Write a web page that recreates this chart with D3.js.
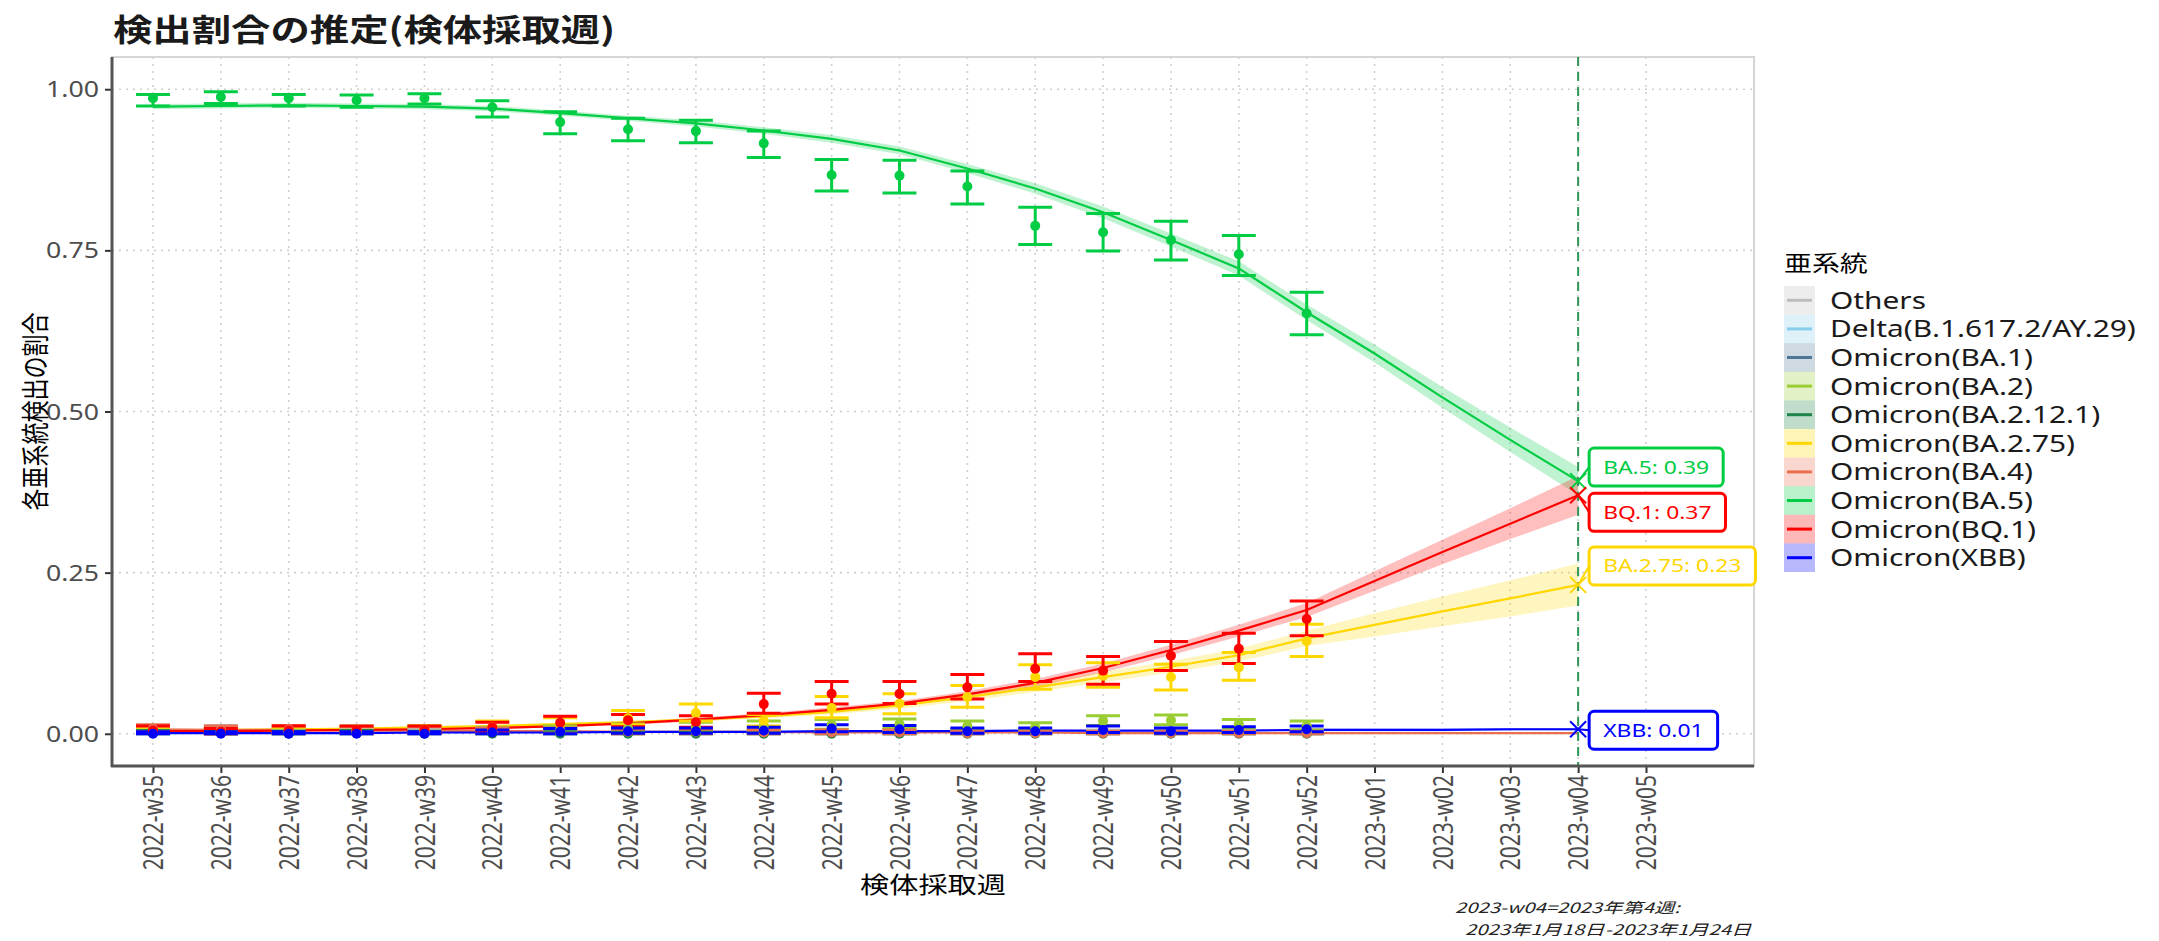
<!DOCTYPE html>
<html>
<head>
<meta charset="utf-8">
<script src="https://cdn.jsdelivr.net/npm/d3@7"></script>
<style>
  body { margin: 0; background: #fff; }
  svg { display: block; }
</style>
</head>
<body>
<svg id="chart" width="2159" height="941"></svg>
<script>
// week categories on the x axis
const weeks = [
  "2022-w35", "2022-w36", "2022-w37", "2022-w38", "2022-w39", "2022-w40",
  "2022-w41", "2022-w42", "2022-w43", "2022-w44", "2022-w45", "2022-w46",
  "2022-w47", "2022-w48", "2022-w49", "2022-w50", "2022-w51", "2022-w52",
  "2023-w01", "2023-w02", "2023-w03", "2023-w04", "2023-w05"
];
const obsWeeks = weeks.slice(0, 18);   // observed w35..w52
const fitWeeks = weeks.slice(0, 22);   // model fit w35..2023-w04
const cutWeek = "2023-w04";
const yTicks = [0, 0.25, 0.5, 0.75, 1];

// legend lineages and colours
const lineages = [
  "Others", "Delta(B.1.617.2/AY.29)", "Omicron(BA.1)", "Omicron(BA.2)",
  "Omicron(BA.2.12.1)", "Omicron(BA.2.75)", "Omicron(BA.4)", "Omicron(BA.5)",
  "Omicron(BQ.1)", "Omicron(XBB)"
];
const lineageColors = [
  "#bdbdbd", "#87ceeb", "#4f7694", "#9acd32", "#1e8449",
  "#ffd700", "#e9704f", "#00cc44", "#ff0000", "#0000ff"
];

// observed proportions with intervals (w35..w52)
const othersObs = [0.003, 0.004, 0.002, 0.002, 0.002, 0.002, 0.002, 0.002, 0.002, 0.002, 0.002, 0.002, 0.002, 0.002, 0.002, 0.002, 0.002, 0.002];
const othersLo  = [0.000, 0.000, 0.000, 0.000, 0.000, 0.000, 0.000, 0.000, 0.000, 0.000, 0.000, 0.000, 0.000, 0.000, 0.000, 0.000, 0.000, 0.000];
const othersHi  = [0.010, 0.013, 0.008, 0.007, 0.007, 0.006, 0.006, 0.006, 0.006, 0.006, 0.006, 0.006, 0.006, 0.006, 0.006, 0.006, 0.006, 0.006];

const ba2Obs = [0.004, 0.002, 0.003, 0.005, 0.006, 0.004, 0.006, 0.008, 0.010, 0.012, 0.014, 0.015, 0.012, 0.010, 0.020, 0.021, 0.015, 0.012];
const ba2Lo  = [0.001, 0.000, 0.000, 0.001, 0.002, 0.001, 0.002, 0.003, 0.004, 0.006, 0.007, 0.008, 0.006, 0.005, 0.013, 0.014, 0.009, 0.006];
const ba2Hi  = [0.010, 0.008, 0.009, 0.012, 0.013, 0.010, 0.012, 0.015, 0.018, 0.020, 0.022, 0.023, 0.020, 0.017, 0.028, 0.029, 0.022, 0.020];

const ba2121Obs = [0.001, 0.001, 0.000, 0.001, 0.000, 0.000, 0.000, 0.000, 0.000, 0.000, 0.000, 0.000, 0.000, 0.000, 0.000, 0.000, 0.000, 0.000];
const ba2121Lo  = [0.000, 0.000, 0.000, 0.000, 0.000, 0.000, 0.000, 0.000, 0.000, 0.000, 0.000, 0.000, 0.000, 0.000, 0.000, 0.000, 0.000, 0.000];
const ba2121Hi  = [0.005, 0.005, 0.004, 0.005, 0.004, 0.003, 0.003, 0.003, 0.003, 0.003, 0.003, 0.003, 0.003, 0.003, 0.003, 0.003, 0.003, 0.003];

const ba275Obs = [0.004, 0.004, 0.004, 0.005, 0.006, 0.010, 0.015, 0.024, 0.032, 0.020, 0.040, 0.047, 0.057, 0.088, 0.090, 0.088, 0.103, 0.144];
const ba275Lo  = [0.001, 0.001, 0.001, 0.001, 0.002, 0.004, 0.008, 0.014, 0.020, 0.012, 0.025, 0.031, 0.041, 0.069, 0.072, 0.068, 0.083, 0.120];
const ba275Hi  = [0.010, 0.010, 0.010, 0.011, 0.012, 0.020, 0.025, 0.036, 0.046, 0.030, 0.058, 0.062, 0.075, 0.107, 0.110, 0.108, 0.126, 0.170];

const ba4Obs = [0.008, 0.006, 0.007, 0.005, 0.005, 0.004, 0.004, 0.003, 0.003, 0.002, 0.002, 0.002, 0.001, 0.001, 0.001, 0.001, 0.001, 0.001];
const ba4Lo  = [0.003, 0.002, 0.002, 0.001, 0.001, 0.001, 0.001, 0.000, 0.000, 0.000, 0.000, 0.000, 0.000, 0.000, 0.000, 0.000, 0.000, 0.000];
const ba4Hi  = [0.014, 0.012, 0.013, 0.011, 0.011, 0.009, 0.009, 0.007, 0.007, 0.006, 0.006, 0.006, 0.004, 0.004, 0.004, 0.004, 0.004, 0.004];

const ba5Obs = [0.986, 0.988, 0.986, 0.983, 0.986, 0.972, 0.949, 0.938, 0.935, 0.916, 0.867, 0.866, 0.849, 0.788, 0.778, 0.766, 0.744, 0.652];
const ba5Lo  = [0.974, 0.978, 0.974, 0.972, 0.977, 0.957, 0.931, 0.920, 0.917, 0.894, 0.842, 0.839, 0.822, 0.759, 0.749, 0.735, 0.711, 0.619];
const ba5Hi  = [0.992, 0.996, 0.992, 0.991, 0.993, 0.982, 0.965, 0.955, 0.952, 0.935, 0.891, 0.890, 0.873, 0.817, 0.807, 0.795, 0.773, 0.685];

const bq1Obs = [0.005, 0.003, 0.005, 0.006, 0.006, 0.010, 0.017, 0.021, 0.018, 0.046, 0.062, 0.062, 0.072, 0.101, 0.098, 0.121, 0.132, 0.178];
const bq1Lo  = [0.001, 0.000, 0.001, 0.002, 0.002, 0.004, 0.008, 0.011, 0.010, 0.032, 0.046, 0.047, 0.054, 0.081, 0.077, 0.098, 0.109, 0.152];
const bq1Hi  = [0.012, 0.008, 0.012, 0.012, 0.012, 0.018, 0.027, 0.030, 0.028, 0.063, 0.081, 0.081, 0.092, 0.124, 0.120, 0.143, 0.156, 0.206];

const xbbObs = [0.000, 0.000, 0.000, 0.000, 0.000, 0.002, 0.003, 0.004, 0.004, 0.005, 0.008, 0.007, 0.004, 0.004, 0.006, 0.004, 0.006, 0.007];
const xbbLo  = [0.000, 0.000, 0.000, 0.000, 0.000, 0.000, 0.000, 0.001, 0.001, 0.001, 0.003, 0.002, 0.001, 0.001, 0.002, 0.001, 0.002, 0.003];
const xbbHi  = [0.003, 0.003, 0.003, 0.003, 0.003, 0.006, 0.008, 0.009, 0.009, 0.010, 0.014, 0.013, 0.009, 0.009, 0.012, 0.009, 0.011, 0.012];

// model fit with interval (w35..2023-w04)
const ba4Fit = [0.007, 0.006, 0.006, 0.005, 0.005, 0.004, 0.004, 0.003, 0.003, 0.003, 0.002, 0.002, 0.002, 0.002, 0.001, 0.001, 0.001, 0.001, 0.001, 0.001, 0.001, 0.001];

const ba5Fit   = [0.973, 0.974, 0.975, 0.974, 0.973, 0.970, 0.963, 0.955, 0.947, 0.936, 0.923, 0.905, 0.877, 0.846, 0.809, 0.766, 0.722, 0.654, 0.590, 0.522, 0.456, 0.392];
const ba5FitLo = [0.969, 0.970, 0.971, 0.970, 0.969, 0.966, 0.959, 0.951, 0.942, 0.931, 0.917, 0.899, 0.870, 0.838, 0.800, 0.756, 0.711, 0.642, 0.576, 0.506, 0.437, 0.370];
const ba5FitHi = [0.977, 0.978, 0.979, 0.978, 0.977, 0.974, 0.967, 0.959, 0.952, 0.941, 0.929, 0.911, 0.884, 0.854, 0.818, 0.776, 0.733, 0.666, 0.604, 0.538, 0.475, 0.414];

const bq1Fit   = [0.004, 0.004, 0.005, 0.006, 0.007, 0.009, 0.012, 0.016, 0.022, 0.029, 0.037, 0.047, 0.061, 0.079, 0.102, 0.130, 0.160, 0.192, 0.237, 0.282, 0.326, 0.370];
const bq1FitLo = [0.003, 0.003, 0.004, 0.005, 0.006, 0.007, 0.010, 0.014, 0.019, 0.026, 0.033, 0.043, 0.056, 0.073, 0.095, 0.122, 0.151, 0.181, 0.222, 0.263, 0.302, 0.340];
const bq1FitHi = [0.005, 0.005, 0.006, 0.007, 0.008, 0.011, 0.014, 0.018, 0.025, 0.032, 0.041, 0.051, 0.066, 0.085, 0.109, 0.138, 0.169, 0.203, 0.252, 0.301, 0.350, 0.400];

const ba275Fit   = [0.005, 0.006, 0.007, 0.008, 0.010, 0.012, 0.015, 0.018, 0.022, 0.027, 0.034, 0.044, 0.057, 0.072, 0.088, 0.104, 0.122, 0.148, 0.169, 0.190, 0.210, 0.231];
const ba275FitLo = [0.004, 0.005, 0.006, 0.007, 0.008, 0.010, 0.013, 0.016, 0.019, 0.024, 0.030, 0.039, 0.051, 0.065, 0.080, 0.095, 0.112, 0.136, 0.151, 0.167, 0.182, 0.199];
const ba275FitHi = [0.006, 0.007, 0.008, 0.009, 0.012, 0.014, 0.017, 0.020, 0.025, 0.030, 0.038, 0.049, 0.063, 0.079, 0.096, 0.113, 0.132, 0.160, 0.187, 0.213, 0.238, 0.264];

const xbbFit   = [0.001, 0.001, 0.001, 0.001, 0.002, 0.002, 0.002, 0.003, 0.003, 0.003, 0.004, 0.004, 0.004, 0.005, 0.005, 0.005, 0.005, 0.006, 0.006, 0.006, 0.007, 0.007];
const xbbFitLo = [0.000, 0.000, 0.000, 0.000, 0.001, 0.001, 0.001, 0.002, 0.002, 0.002, 0.003, 0.003, 0.003, 0.004, 0.004, 0.004, 0.004, 0.004, 0.004, 0.004, 0.005, 0.005];
const xbbFitHi = [0.002, 0.002, 0.002, 0.002, 0.003, 0.003, 0.003, 0.004, 0.004, 0.004, 0.005, 0.005, 0.005, 0.006, 0.006, 0.006, 0.006, 0.008, 0.008, 0.008, 0.009, 0.009];

// end-of-fit labels
const labelNames = ["BA.5", "BQ.1", "BA.2.75", "XBB"];
const labelLineages = ["Omicron(BA.5)", "Omicron(BQ.1)", "Omicron(BA.2.75)", "Omicron(XBB)"];
const labelFits = [ba5Fit, bq1Fit, ba275Fit, xbbFit];

const colorOf = d3.scaleOrdinal().domain(lineages).range(lineageColors);

// ---- layout ----
const SX = 1.27;   // the reference text is drawn horizontally stretched
const FONT = "'Noto Sans', 'Noto Sans CJK JP', sans-serif";
const CJK = "'Noto Sans CJK JP', 'Noto Sans', sans-serif";
const panel = { left: 112, right: 1754, top: 57, bottom: 766 };

const svg = d3.select("#chart");

const x = d3.scalePoint().domain(weeks).range([153, 1646]);
const y = d3.scaleLinear().domain([-0.05, 1.05]).range([panel.bottom, panel.top]);

// stretched text helper
function stext(g, tx, ty, str, opts) {
  const sx = opts.sx || SX;
  const t = g.append("text")
    .attr("transform", `translate(${tx},${ty}) scale(${sx},1)` + (opts.rotate ? ` rotate(${opts.rotate})` : ""))
    .attr("font-family", opts.family || FONT)
    .attr("font-size", opts.size)
    .attr("fill", opts.fill || "#000")
    .attr("text-anchor", opts.anchor || "start")
    .text(str);
  if (opts.weight) t.attr("font-weight", opts.weight);
  if (opts.style) t.attr("font-style", opts.style);
  if (opts.dy) t.attr("dy", opts.dy);
  return t;
}

// ---- grid ----
const grid = svg.append("g");
grid.selectAll(".gx").data(weeks).join("line")
  .attr("x1", d => x(d)).attr("x2", d => x(d))
  .attr("y1", panel.top).attr("y2", panel.bottom)
  .attr("stroke", "#cfcfcf").attr("stroke-width", 1.6).attr("stroke-dasharray", "2,5");
grid.selectAll(".gy").data(yTicks).join("line")
  .attr("x1", panel.left).attr("x2", panel.right)
  .attr("y1", d => y(d)).attr("y2", d => y(d))
  .attr("stroke", "#cfcfcf").attr("stroke-width", 1.6).attr("stroke-dasharray", "2,5");

// panel border (top / right light grey)
svg.append("rect")
  .attr("x", panel.left).attr("y", panel.top)
  .attr("width", panel.right - panel.left).attr("height", panel.bottom - panel.top)
  .attr("fill", "none").attr("stroke", "#d6d6d6").attr("stroke-width", 2);

// ---- ribbons and fit lines ----
const fits = [
  { name: "Omicron(BA.2.75)", fit: ba275Fit, lo: ba275FitLo, hi: ba275FitHi },
  { name: "Omicron(BA.4)", fit: ba4Fit },
  { name: "Omicron(BA.5)", fit: ba5Fit, lo: ba5FitLo, hi: ba5FitHi },
  { name: "Omicron(BQ.1)", fit: bq1Fit, lo: bq1FitLo, hi: bq1FitHi },
  { name: "Omicron(XBB)", fit: xbbFit, lo: xbbFitLo, hi: xbbFitHi }
];

const area = d3.area()
  .x(d => x(d.week)).y0(d => y(d.lo)).y1(d => y(d.hi));
const line = d3.line()
  .x(d => x(d.week)).y(d => y(d.v));

const ribbonG = svg.append("g");
fits.filter(s => s.lo).forEach(s => {
  const pts = fitWeeks.map((w, i) => ({ week: w, lo: s.lo[i], hi: s.hi[i] }));
  ribbonG.append("path").datum(pts)
    .attr("d", area)
    .attr("fill", colorOf(s.name)).attr("fill-opacity", 0.25);
});

const lineG = svg.append("g");
fits.forEach(s => {
  const pts = fitWeeks.map((w, i) => ({ week: w, v: s.fit[i] }));
  lineG.append("path").datum(pts)
    .attr("d", line)
    .attr("fill", "none")
    .attr("stroke", colorOf(s.name)).attr("stroke-width", 2.2);
});

// ---- observed error bars and points ----
const obs = [
  { name: "Others", v: othersObs, lo: othersLo, hi: othersHi },
  { name: "Omicron(BA.2)", v: ba2Obs, lo: ba2Lo, hi: ba2Hi },
  { name: "Omicron(BA.2.12.1)", v: ba2121Obs, lo: ba2121Lo, hi: ba2121Hi },
  { name: "Omicron(BA.2.75)", v: ba275Obs, lo: ba275Lo, hi: ba275Hi },
  { name: "Omicron(BA.4)", v: ba4Obs, lo: ba4Lo, hi: ba4Hi },
  { name: "Omicron(BA.5)", v: ba5Obs, lo: ba5Lo, hi: ba5Hi },
  { name: "Omicron(BQ.1)", v: bq1Obs, lo: bq1Lo, hi: bq1Hi },
  { name: "Omicron(XBB)", v: xbbObs, lo: xbbLo, hi: xbbHi }
];
const capHalf = x.step() * 0.25;

const errG = svg.append("g");
obs.forEach(s => {
  const c = colorOf(s.name);
  const rows = obsWeeks.map((w, i) => ({ week: w, lo: s.lo[i], hi: s.hi[i] }));
  const g = errG.append("g").attr("stroke", c).attr("stroke-width", 3).attr("fill", "none");
  g.selectAll(".v").data(rows).join("line")
    .attr("x1", d => x(d.week)).attr("x2", d => x(d.week))
    .attr("y1", d => y(d.lo)).attr("y2", d => y(d.hi));
  g.selectAll(".t").data(rows).join("line")
    .attr("x1", d => x(d.week) - capHalf).attr("x2", d => x(d.week) + capHalf)
    .attr("y1", d => y(d.hi)).attr("y2", d => y(d.hi));
  g.selectAll(".b").data(rows).join("line")
    .attr("x1", d => x(d.week) - capHalf).attr("x2", d => x(d.week) + capHalf)
    .attr("y1", d => y(d.lo)).attr("y2", d => y(d.lo));
});

const ptG = svg.append("g");
obs.forEach(s => {
  const rows = obsWeeks.map((w, i) => ({ week: w, v: s.v[i] }));
  ptG.append("g").selectAll("circle").data(rows).join("circle")
    .attr("cx", d => x(d.week)).attr("cy", d => y(d.v))
    .attr("r", 5).attr("fill", colorOf(s.name));
});

// ---- cut-off week line ----
svg.append("line")
  .attr("x1", x(cutWeek)).attr("x2", x(cutWeek))
  .attr("y1", panel.top).attr("y2", panel.bottom)
  .attr("stroke", "#2e9657").attr("stroke-width", 2).attr("stroke-dasharray", "9,6");

// ---- end labels with cross markers ----
const labelOffsets = [-14, 17, -19, 1];
const labG = svg.append("g");
const cutIdx = fitWeeks.indexOf(cutWeek);
labelNames.forEach((nm, i) => {
  const c = colorOf(labelLineages[i]);
  const v = labelFits[i][cutIdx];
  const px = x(cutWeek), py = y(v);
  const bx = px + 11, by = py + labelOffsets[i];
  const s = 8;
  labG.append("path")
    .attr("d", `M${px - s},${py - s}L${px + s},${py + s}M${px - s},${py + s}L${px + s},${py - s}`)
    .attr("stroke", c).attr("stroke-width", 2).attr("fill", "none");
  labG.append("line")
    .attr("x1", px).attr("y1", py).attr("x2", bx).attr("y2", by)
    .attr("stroke", c).attr("stroke-width", 2);
  const g = labG.append("g");
  const t = stext(g, bx + 14, by, `${nm}: ${d3.format(".2f")(v)}`,
    { size: 18, fill: c, dy: "0.36em" });
  const tw = t.node().getComputedTextLength() * SX;
  g.insert("rect", "text")
    .attr("x", bx).attr("y", by - 19)
    .attr("width", tw + 28).attr("height", 38)
    .attr("rx", 5)
    .attr("fill", "#fff").attr("stroke", c).attr("stroke-width", 3);
});

// ---- axes ----
const yAxis = svg.append("g")
  .attr("transform", `translate(${panel.left},0)`)
  .call(d3.axisLeft(y).tickValues(yTicks).tickFormat(d3.format(".2f")).tickSize(7).tickPadding(6).tickSizeOuter(0));
yAxis.select(".domain").remove();
yAxis.selectAll(".tick line").attr("stroke", "#333").attr("stroke-width", 2);
yAxis.selectAll(".tick text")
  .attr("font-family", FONT).attr("font-size", 21).attr("fill", "#4d4d4d")
  .attr("x", -13 / SX).attr("dy", "0.36em")
  .attr("transform", `scale(${SX},1)`);

const xAxis = svg.append("g")
  .attr("transform", `translate(0,${panel.bottom})`)
  .call(d3.axisBottom(x).tickSize(7).tickPadding(6).tickSizeOuter(0));
xAxis.select(".domain").remove();
xAxis.selectAll(".tick line").attr("stroke", "#333").attr("stroke-width", 2);
xAxis.selectAll(".tick text")
  .attr("font-family", FONT).attr("font-size", 21).attr("fill", "#4d4d4d")
  .attr("text-anchor", "end")
  .attr("x", -9).attr("y", 0).attr("dy", "0.36em")
  .attr("transform", `scale(${SX},1) rotate(-90)`);

// axis lines (left and bottom, darker)
svg.append("line")
  .attr("x1", panel.left).attr("x2", panel.left)
  .attr("y1", panel.top).attr("y2", panel.bottom + 1)
  .attr("stroke", "#555").attr("stroke-width", 3);
svg.append("line")
  .attr("x1", panel.left - 1).attr("x2", panel.right)
  .attr("y1", panel.bottom).attr("y2", panel.bottom)
  .attr("stroke", "#555").attr("stroke-width", 3);

// ---- titles ----
stext(svg, 113, 41, "検出割合の推定(検体採取週)", { size: 31, weight: "bold", family: CJK, fill: "#1a1a1a" });
stext(svg, (panel.left + panel.right) / 2, 893, "検体採取週", { size: 23, family: CJK, anchor: "middle" });
stext(svg, 46, (panel.top + panel.bottom) / 2, "各亜系統検出の割合",
  { size: 22, family: CJK, anchor: "middle", rotate: -90 });

// caption (two lines)
stext(svg, 1455, 913, "2023-w04=2023年第4週:", { size: 14.5, sx: 1.4, family: CJK, style: "italic", fill: "#222" });
stext(svg, 1465, 935, "2023年1月18日-2023年1月24日", { size: 14.5, sx: 1.4, family: CJK, style: "italic", fill: "#222" });

// ---- legend ----
const leg = svg.append("g");
stext(leg, 1784, 271, "亜系統", { size: 22, family: CJK });
const keyY = d3.scaleBand().domain(lineages).range([286, 572]);
lineages.forEach(nm => {
  const c = colorOf(nm);
  const ky = keyY(nm), kh = keyY.bandwidth();
  leg.append("rect")
    .attr("x", 1784).attr("y", ky).attr("width", 31).attr("height", kh)
    .attr("fill", c).attr("fill-opacity", 0.28);
  leg.append("line")
    .attr("x1", 1787).attr("x2", 1812)
    .attr("y1", ky + kh / 2).attr("y2", ky + kh / 2)
    .attr("stroke", c).attr("stroke-width", 3);
  stext(leg, 1830, ky + kh / 2, nm, { size: 23.5, dy: "0.36em", fill: "#1a1a1a" });
});
</script>
</body>
</html>
